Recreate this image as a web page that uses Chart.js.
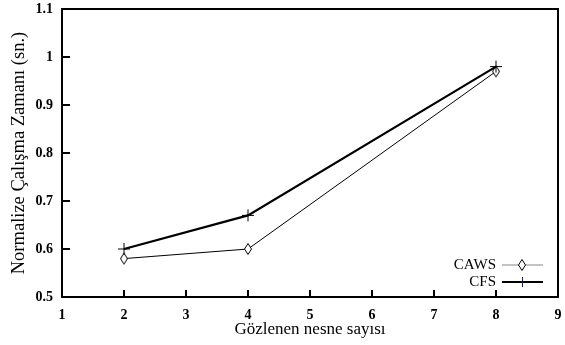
<!DOCTYPE html>
<html>
<head>
<meta charset="utf-8">
<script src="https://cdn.jsdelivr.net/npm/chart.js@4"></script>
<style>
  html, body { margin: 0; padding: 0; background: #fff; }
  #chart { display: block; }
</style>
</head>
<body>
<canvas id="chart" width="565" height="345"></canvas>
<script>
const objectCounts = [2, 4, 8];
const cawsTimes = [0.58, 0.60, 0.97];
const cfsTimes = [0.60, 0.67, 0.98];
const xTicks = [1, 2, 3, 4, 5, 6, 7, 8, 9];
const yTicks = [0.5, 0.6, 0.7, 0.8, 0.9, 1.0, 1.1];

const serif = '"Liberation Serif", "DejaVu Serif", serif';

// narrow diamond marker, like the gnuplot point type
function diamondMarker() {
  const c = document.createElement('canvas');
  c.width = 10; c.height = 14;
  const g = c.getContext('2d');
  g.fillStyle = '#fff';
  g.strokeStyle = '#000';
  g.lineWidth = 1;
  g.beginPath();
  g.moveTo(5, 1.5); g.lineTo(8.5, 7); g.lineTo(5, 12.5); g.lineTo(1.5, 7); g.closePath();
  g.fill(); g.stroke();
  return c;
}
const diamond = diamondMarker();

function pts(xs, ys) { return xs.map((x, i) => ({ x, y: ys[i] })); }

// inward tick marks along bottom and left
const innerTicks = {
  id: 'innerTicks',
  afterDraw(chart) {
    const { ctx, chartArea: a, scales: { x, y } } = chart;
    ctx.save();
    ctx.strokeStyle = '#000';
    ctx.lineWidth = 2;
    ctx.beginPath();
    xTicks.slice(1, -1).forEach(v => {
      const px = Math.round(x.getPixelForValue(v));
      ctx.moveTo(px, a.bottom); ctx.lineTo(px, a.bottom - 7);
    });
    yTicks.slice(1, -1).forEach(v => {
      const py = Math.round(y.getPixelForValue(v));
      ctx.moveTo(a.left, py); ctx.lineTo(a.left + 8, py);
    });
    ctx.stroke();
    ctx.strokeRect(a.left, a.top, a.right - a.left, a.bottom - a.top);
    ctx.restore();
  }
};

// key in the lower right: label, then a line sample with its marker
const keyBox = {
  id: 'keyBox',
  afterDraw(chart) {
    const ctx = chart.ctx;
    const rows = [
      { label: 'CAWS', y: 265, color: '#888', width: 1.2, marker: 'diamond' },
      { label: 'CFS', y: 282, color: '#000', width: 2, marker: 'cross' }
    ];
    ctx.save();
    ctx.font = '15px ' + serif;
    ctx.textAlign = 'right';
    ctx.textBaseline = 'middle';
    rows.forEach(r => {
      ctx.fillStyle = '#000';
      ctx.fillText(r.label, 496, r.y);
      ctx.strokeStyle = r.color;
      ctx.lineWidth = r.width;
      ctx.beginPath();
      ctx.moveTo(502, r.y); ctx.lineTo(543, r.y);
      ctx.stroke();
      if (r.marker === 'diamond') {
        ctx.drawImage(diamond, 517, r.y - 7);
      } else {
        ctx.strokeStyle = '#1a1a60';
        ctx.lineWidth = 1;
        ctx.beginPath();
        ctx.moveTo(522.5, r.y - 5); ctx.lineTo(522.5, r.y + 5);
        ctx.stroke();
      }
    });
    ctx.restore();
  }
};

new Chart(document.getElementById('chart'), {
  type: 'scatter',
  data: {
    datasets: [
      {
        label: 'CAWS',
        data: pts(objectCounts, cawsTimes),
        showLine: true,
        borderColor: '#000',
        borderWidth: 1,
        pointStyle: diamond,
        pointRadius: 5,
        order: 2
      },
      {
        label: 'CFS',
        data: pts(objectCounts, cfsTimes),
        showLine: true,
        borderColor: '#000',
        backgroundColor: '#000',
        borderWidth: 2.2,
        pointStyle: 'cross',
        pointRadius: 6,
        pointBorderWidth: 1,
        order: 1
      }
    ]
  },
  options: {
    responsive: false,
    animation: false,
    layout: { padding: { left: 0, right: 7, top: 9, bottom: 0 } },
    plugins: { legend: { display: false }, tooltip: { enabled: false } },
    scales: {
      x: {
        type: 'linear',
        min: 1, max: 9,
        afterFit: s => { s.height = 48; s.paddingLeft = 0; s.paddingRight = 0; },
        afterBuildTicks: s => { s.ticks = xTicks.map(v => ({ value: v })); },
        grid: { display: false, drawTicks: false },
        border: { display: false },
        ticks: { color: '#000', padding: 10, maxRotation: 0, font: { family: serif, size: 14, weight: 'bold' } },
        title: { display: true, text: 'Gözlenen nesne sayısı', color: '#000', padding: { top: 0, bottom: 5 }, font: { family: serif, size: 17 } }
      },
      y: {
        min: 0.5, max: 1.1,
        afterFit: s => { s.width = 62; s.paddingTop = 0; s.paddingBottom = 0; },
        afterBuildTicks: s => { s.ticks = yTicks.map(v => ({ value: v })); },
        grid: { display: false, drawTicks: false },
        border: { display: false },
        ticks: {
          color: '#000', padding: 9,
          font: { family: serif, size: 14, weight: 'bold' },
          callback: v => (Math.round(v * 10) / 10).toString()
        },
        title: { display: true, text: 'Normalize Çalışma Zamanı (sn.)', color: '#000', padding: { top: 8, bottom: 0 }, font: { family: serif, size: 18.5 } }
      }
    }
  },
  plugins: [innerTicks, keyBox]
});
</script>
</body>
</html>
